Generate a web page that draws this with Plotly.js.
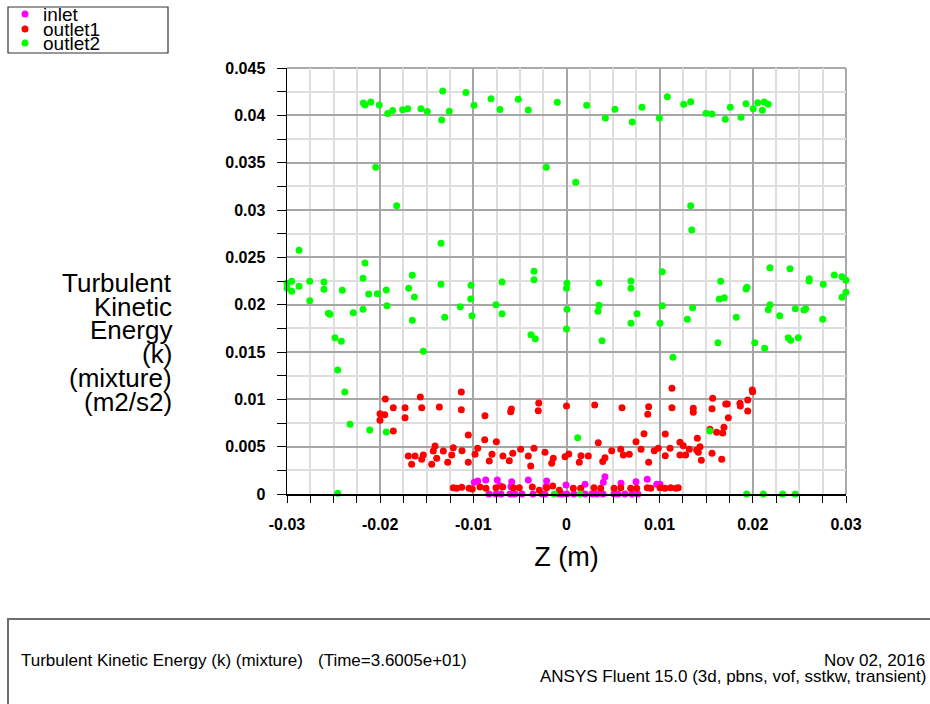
<!DOCTYPE html>
<html>
<head>
<meta charset="utf-8">
<script src="https://cdn.plot.ly/plotly-3.0.1.min.js"></script>
<style>
html,body{margin:0;padding:0;background:#fff;}
#chart{width:930px;height:704px;}
</style>
</head>
<body>
<div id="chart"></div>
<script>
// ---------------- DATA ----------------
const seriesNames = ["inlet", "outlet1", "outlet2"];
const seriesColors = ["#ff00ff", "#ff0000", "#00ff00"];

const inletX = [-0.0099,-0.00953,-0.00867,-0.00743,-0.00714,-0.00588,-0.00596,-0.0041,-0.00213,-0.0022,-0.00005,
  0.00199,0.00395,0.00413,0.00585,0.00746,0.00867,0.00968,0.01004,
  -0.00832,-0.00757,-0.00703,-0.00606,-0.00553,-0.00478,-0.0036,-0.00263,-0.00231,-0.00091,-0.00048,0.00005,
  0.0008,0.00199,0.00274,0.00327,0.00392,0.0051,0.00553,0.00628,0.00703,0.00767];
const inletY = [0.00123,0.00137,0.00148,0.00148,0.00088,0.0013,0.00077,0.00148,0.00137,0.00077,0.00095,
  0.00102,0.00123,0.00183,0.00113,0.0013,0.00155,0.00102,0.00102,
  0,0,0,0,0,0,0,0,0,0,0,0,
  0,0,0,0,0,0,0,0,0,0];

const outlet1X = [
  -0.01945,-0.01569,-0.01129,-0.01859,-0.01733,-0.01554,-0.01365,-0.01129,-0.02002,-0.01951,-0.02002,-0.01733,-0.01859,
  -0.00875,-0.00592,-0.00599,-0.00298,-0.00303,0.0,
  0.00303,0.00596,0.00882,0.00872,0.01132,0.01132,0.01361,0.01361,0.01562,0.01569,0.01709,0.01726,0.01737,
  0.01862,0.01866,0.01945,0.01945,0.01994,0.01998,0.0169,0.01612,0.01677,0.0154,
  -0.01054,-0.00878,-0.00753,0.00341,0.00746,0.00832,0.0106,0.01218,0.01254,0.01404,
  -0.01698,-0.01626,-0.01537,-0.01662,-0.01554,-0.01411,-0.0143,-0.01393,-0.01447,-0.01322,-0.01215,-0.01232,
  -0.01275,-0.01122,-0.01054,-0.00982,-0.00953,-0.008,-0.00829,-0.00682,-0.00614,-0.00577,-0.00492,-0.0041,
  -0.00384,-0.00349,-0.00231,-0.00142,-0.00159,-0.00016,0.00024,
  0.00137,0.00156,0.00234,0.00389,0.00413,0.00485,0.00582,0.0061,0.00674,0.008,0.00882,0.00942,0.00985,0.0106,
  0.01111,0.01218,0.01279,0.01318,0.01397,0.01415,0.01433,0.01447,0.01562,0.01666,
  -0.01215,-0.01179,-0.01125,-0.01046,-0.01011,-0.00928,-0.00864,-0.00757,-0.00685,-0.00571,-0.00507,-0.00367,
  -0.00292,-0.00213,-0.00148,-0.00077,
  0.00073,0.00152,0.00295,0.00367,0.0051,0.00582,0.00689,0.00753,0.00867,0.00904,0.01004,0.01057,0.01118,0.01175,0.012];
const outlet1Y = [
  0.01003,0.01025,0.01077,0.00912,0.00912,0.00912,0.00919,0.0089,0.00848,0.00838,0.00778,0.00806,0.00665,
  0.00827,0.00898,0.0087,0.00961,0.0088,0.0093,
  0.0094,0.00912,0.00922,0.00842,0.01117,0.00912,0.00905,0.00863,0.00901,0.01011,0.00951,0.00951,0.00806,
  0.00958,0.0093,0.00993,0.00877,0.01099,0.0108,0.00705,0.00652,0.00644,0.00683,
  0.00623,0.00574,0.00552,0.00542,0.00552,0.00637,0.00634,0.00546,0.0051,0.00588,
  0.00401,0.00401,0.00412,0.00314,0.00366,0.00507,0.00454,0.00377,0.00314,0.00454,0.00489,0.00412,
  0.00335,0.00457,0.00335,0.00419,0.00483,0.00419,0.00349,0.00401,0.00352,0.0043,0.00472,0.00401,
  0.00296,0.00483,0.0044,0.00377,0.00324,0.00394,0.00423,
  0.00335,0.00405,0.00401,0.00342,0.00384,0.00457,0.00472,0.00412,0.00419,0.00472,0.00335,0.00457,0.00483,0.00405,
  0.00483,0.00412,0.00412,0.00472,0.00465,0.0044,0.005,0.00356,0.0043,0.00366,
  0.00067,0.0006,0.0007,0.0006,0.00053,0.00074,0.0006,0.00067,0.00074,0.00067,0.00067,0.00074,
  0.0004,0.00067,0.00084,0.0004,
  0.0006,0.0006,0.00067,0.0006,0.0006,0.00067,0.0006,0.0006,0.00067,0.0006,0.00067,0.0006,0.00067,0.0006,0.00067];

const outlet2X = [
  -0.02163,-0.0218,-0.021,-0.0201,-0.0192,-0.01866,-0.01758,-0.01704,-0.01562,-0.01494,-0.01329,-0.0134,-0.01258,
  -0.01079,-0.00993,-0.0081,-0.00714,-0.00517,-0.0041,-0.00099,0.00217,0.00417,0.0052,0.00706,0.0081,0.00996,
  0.01082,0.01258,0.01333,0.01497,0.01562,0.01704,0.01758,0.01873,0.01927,0.02005,0.02052,0.02123,0.02102,0.02166,
  -0.02048,-0.00217,-0.01823,0.00099,0.01333,0.01344,-0.02871,-0.01347,
  -0.02163,-0.02184,-0.01655,-0.03,-0.0295,-0.03,-0.0295,-0.02871,-0.02756,-0.02756,-0.02603,-0.02603,-0.02406,
  -0.02556,-0.02538,-0.02485,-0.02417,-0.02456,-0.02288,-0.02184,-0.02123,-0.02031,-0.01934,-0.01927,-0.01694,
  -0.01633,-0.01655,-0.01537,-0.01347,-0.01307,-0.0114,-0.01025,-0.01028,-0.01014,-0.00757,-0.00692,-0.00692,
  -0.00349,-0.00349,-0.00381,-0.00335,0.00005,0.0,0.00005,0.0,
  0.01028,0.00349,0.00349,0.00338,0.00381,0.00692,0.00692,0.00757,0.00692,0.01028,0.01004,0.01143,0.01354,0.01297,
  0.01655,0.0164,0.01694,0.01626,0.01822,0.01927,0.01937,0.0202,0.02127,0.02184,0.02184,0.02166,0.02288,0.02399,
  0.02456,0.0238,0.02406,0.02488,0.02549,0.02567,0.02606,0.02603,0.02756,0.0275,0.02874,0.02957,0.03,0.03,0.02957,
  -0.0238,-0.02324,-0.02112,-0.01934,0.0012,0.01537,
  -0.02456,-0.0013,0.00145,0.01934,0.02113,0.0232,0.02456];
const outlet2Y = [
  0.0411,0.0413,0.0414,0.0411,0.0402,0.0405,0.0406,0.0407,0.0407,0.0404,0.04257,0.0395,0.04042,
  0.0424,0.04106,0.04176,0.04062,0.0417,0.04056,0.04137,0.04106,0.03972,0.04063,0.0393,0.04085,0.03972,
  0.04197,0.04116,0.04144,0.04021,0.04014,0.03958,0.04085,0.03979,0.04123,0.0407,0.04133,0.04141,0.04053,0.04116,
  0.03451,0.03451,0.03046,0.03293,0.03046,0.02789,0.02574,0.02648,
  0.0244,0.02278,0.0231,0.02226,0.02247,0.02173,0.02141,0.02194,0.02247,0.02042,0.02239,0.02162,0.02152,
  0.01909,0.01898,0.01651,0.01613,0.0131,0.01915,0.01951,0.02113,0.02116,0.02155,0.01989,0.02173,
  0.02081,0.01835,0.01507,0.02215,0.01866,0.01979,0.02205,0.0206,0.01883,0.02,0.02239,0.01905,
  0.02352,0.02264,0.01683,0.0164,0.02226,0.02173,0.01951,0.01743,
  0.02348,0.02229,0.01993,0.0193,0.01619,0.0225,0.02173,0.01905,0.01803,0.01989,0.01803,0.01444,0.01968,0.01845,
  0.02247,0.0206,0.02074,0.01598,0.01866,0.02165,0.02183,0.01598,0.01539,0.0239,0.02,0.01947,0.01883,0.0238,
  0.01958,0.01651,0.01623,0.01651,0.01944,0.01958,0.02274,0.0225,0.02215,0.01845,0.02313,0.02296,0.02257,0.0213,0.02078,
  0.01077,0.00736,0.00676,0.00655,0.00595,0.00665,
  0.00007,0,0,0,0,0,0];

const xTickVals = [-0.03,-0.02,-0.01,0,0.01,0.02,0.03];
const xTickText = ["-0.03","-0.02","-0.01","0","0.01","0.02","0.03"];
const yTickVals = [0,0.005,0.01,0.015,0.02,0.025,0.03,0.035,0.04,0.045];
const yTickText = ["0","0.005","0.01","0.015","0.02","0.025","0.03","0.035","0.04","0.045"];

const xTitle = "Z (m)";
const yTitleLines = ["Turbulent","Kinetic","Energy","(k)","(mixture)","(m2/s2)"];
const footerLeft = "Turbulent Kinetic Energy (k) (mixture)";
const footerTime = "(Time=3.6005e+01)";
const footerDate = "Nov 02, 2016";
const footerApp = "ANSYS Fluent 15.0 (3d, pbns, vof, sstkw, transient)";

// ---------------- LAYOUT ----------------
const FONT = "Liberation Sans, Arial, Helvetica, sans-serif";
const PL = 287, PR = 846, PT = 68, PB = 494;
const PW = PR - PL, PH = PB - PT;
const pxX = v => (v - PL) / PW;
const pxY = v => (PB - v) / PH;

const minorX = [];
for (let i = -12; i <= 12; i++) { if (i % 4 !== 0) minorX.push(i * 0.0025); }
const minorY = [];
for (let i = 1; i <= 17; i += 2) minorY.push(i * 0.0025);

const xs = [inletX, outlet1X, outlet2X];
const ys = [inletY, outlet1Y, outlet2Y];
const traces = seriesNames.map((n, i) => ({
  type: "scatter", mode: "markers", name: n,
  x: xs[i], y: ys[i], cliponaxis: false,
  marker: {color: seriesColors[i], size: 7, line: {width: 0}},
  showlegend: false
}));

const annotations = [];
const yTitleCenters = [283, 307, 330, 354, 378, 402];
yTitleLines.forEach((t, i) => annotations.push({
  xref: "paper", yref: "paper", x: pxX(174), y: pxY(yTitleCenters[i]),
  xanchor: "right", yanchor: "middle", showarrow: false, text: t,
  font: {family: FONT, size: 26, color: "#000"}
}));
// legend texts
const legRows = [14, 29, 43];
seriesNames.forEach((n, i) => annotations.push({
  xref: "paper", yref: "paper", x: pxX(41), y: pxY(legRows[i] + 0.5),
  xanchor: "left", yanchor: "middle", showarrow: false, text: n,
  font: {family: FONT, size: 19, color: "#000"}
}));
// footer
const footFont = {family: FONT, size: 17, color: "#000"};
annotations.push({xref:"paper", yref:"paper", x:pxX(19), y:pxY(660), xanchor:"left", yanchor:"middle",
  showarrow:false, text: footerLeft, font: footFont});
annotations.push({xref:"paper", yref:"paper", x:pxX(316), y:pxY(660), xanchor:"left", yanchor:"middle",
  showarrow:false, text: footerTime, font: footFont});
annotations.push({xref:"paper", yref:"paper", x:pxX(927), y:pxY(660), xanchor:"right", yanchor:"middle",
  showarrow:false, text: footerDate, font: footFont});
annotations.push({xref:"paper", yref:"paper", x:pxX(928), y:pxY(676), xanchor:"right", yanchor:"middle",
  showarrow:false, text: footerApp, font: footFont});

const shapes = [
  // legend box
  {type:"rect", xref:"paper", yref:"paper", x0:pxX(8), x1:pxX(168), y0:pxY(7), y1:pxY(53),
   line:{color:"#333", width:1.2}, fillcolor:"rgba(0,0,0,0)", layer:"above"},
  // footer box
  {type:"rect", xref:"paper", yref:"paper", x0:pxX(8), x1:pxX(960), y0:pxY(619), y1:pxY(760),
   line:{color:"#6e6e6e", width:2}, fillcolor:"rgba(0,0,0,0)", layer:"above"},
  // top / right plot borders
  {type:"line", xref:"paper", yref:"paper", x0:0, x1:1, y0:1, y1:1, line:{color:"#a9a9a9", width:2}, layer:"below"},
  {type:"line", xref:"paper", yref:"paper", x0:1, x1:1, y0:0, y1:1, line:{color:"#a9a9a9", width:2}, layer:"below"}
];
seriesColors.forEach((c, i) => shapes.push({
  type:"circle", xref:"paper", yref:"paper", xsizemode:"pixel", ysizemode:"pixel",
  xanchor:pxX(25), yanchor:pxY(legRows[i]), x0:-3.5, x1:3.5, y0:-3.5, y1:3.5,
  fillcolor:c, line:{width:0}, layer:"above"
}));

const tickFont = {family: FONT, size: 16, color: "#000", weight: "bold"};
const layout = {
  width: 930, height: 704,
  margin: {l: PL, r: 930 - PR, t: PT, b: 704 - PB, pad: 0},
  paper_bgcolor: "#fff", plot_bgcolor: "#fff",
  showlegend: false,
  xaxis: {
    range: [-0.03, 0.03], tickmode: "array", tickvals: xTickVals, ticktext: xTickText,
    showline: true, linecolor: "#000", linewidth: 1.5, ticks: "outside", ticklen: 7, tickcolor: "#000", tickwidth: 1,
    showgrid: true, gridcolor: "#a6a6a6", gridwidth: 2, zeroline: false,
    ticklabelstandoff: 8, tickfont: tickFont,
    minor: {tickmode: "array", tickvals: minorX, ticks: "outside", ticklen: 7, tickcolor: "#000",
            showgrid: true, gridcolor: "#dedede", gridwidth: 2},
    title: {text: xTitle, font: {family: FONT, size: 27, color: "#000"}, standoff: 15},
    automargin: false
  },
  yaxis: {
    range: [0, 0.045], tickmode: "array", tickvals: yTickVals, ticktext: yTickText,
    showline: true, linecolor: "#000", linewidth: 1.5, ticks: "outside", ticklen: 9, tickcolor: "#000", tickwidth: 1,
    showgrid: true, gridcolor: "#a6a6a6", gridwidth: 2, zeroline: false,
    ticklabelstandoff: 8, tickfont: tickFont,
    minor: {tickmode: "array", tickvals: minorY, ticks: "outside", ticklen: 9, tickcolor: "#000",
            showgrid: true, gridcolor: "#dedede", gridwidth: 2},
    automargin: false
  },
  annotations: annotations,
  shapes: shapes
};

Plotly.newPlot("chart", traces, layout, {staticPlot: true, displayModeBar: false});
</script>
</body>
</html>
